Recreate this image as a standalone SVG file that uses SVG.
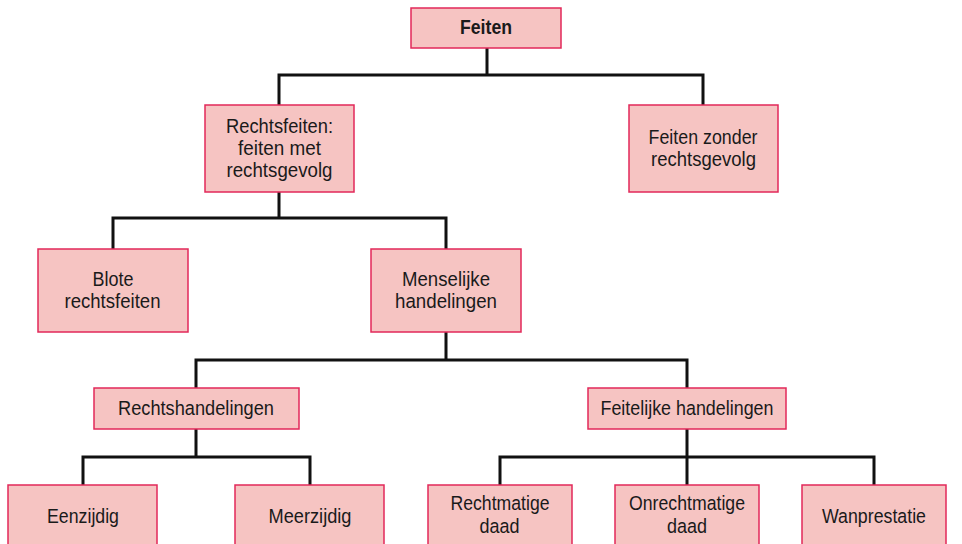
<svg xmlns="http://www.w3.org/2000/svg" width="962" height="544" viewBox="0 0 962 544">
<style>
.box{fill:#f6c4c2;stroke:#e2285a;stroke-width:1.5}
.t{font-family:"Liberation Sans",Arial,sans-serif;font-size:20.5px;fill:#1a1a1a;text-anchor:middle}
.b{font-weight:bold}
.c{fill:none;stroke:#111;stroke-width:3}
</style>
<rect width="962" height="544" fill="#fff"/>
<g id="connectors">
<path class="c" d="M487 48V75M279 105V75H703V105"/>
<path class="c" d="M279 192V218M113 249V218H446V249"/>
<path class="c" d="M446 332V360M196 388V360H687V388"/>
<path class="c" d="M196 429V457M83 485V457H310V485"/>
<path class="c" d="M687 429V457M500 485V457H874V485M687 457V485"/>
</g>
<g id="n-feiten"><rect class="box" x="411" y="8" width="150" height="40"/><text class="t b" x="486" y="34" textLength="52" lengthAdjust="spacingAndGlyphs">Feiten</text></g>
<g id="n-rechtsfeiten"><rect class="box" x="205" y="105" width="149" height="87"/><text class="t" x="279.5" y="133" textLength="107" lengthAdjust="spacingAndGlyphs">Rechtsfeiten:</text><text class="t" x="279.5" y="155" textLength="83" lengthAdjust="spacingAndGlyphs">feiten met</text><text class="t" x="279.5" y="177" textLength="106" lengthAdjust="spacingAndGlyphs">rechtsgevolg</text></g>
<g id="n-zonder"><rect class="box" x="629" y="105" width="149" height="87"/><text class="t" x="703" y="144" textLength="109" lengthAdjust="spacingAndGlyphs">Feiten zonder</text><text class="t" x="703.5" y="166" textLength="105" lengthAdjust="spacingAndGlyphs">rechtsgevolg</text></g>
<g id="n-blote"><rect class="box" x="38" y="249" width="150" height="83"/><text class="t" x="113" y="286" textLength="41" lengthAdjust="spacingAndGlyphs">Blote</text><text class="t" x="112.5" y="308" textLength="96" lengthAdjust="spacingAndGlyphs">rechtsfeiten</text></g>
<g id="n-menselijke"><rect class="box" x="371" y="249" width="150" height="83"/><text class="t" x="446" y="286" textLength="88" lengthAdjust="spacingAndGlyphs">Menselijke</text><text class="t" x="446" y="308" textLength="102" lengthAdjust="spacingAndGlyphs">handelingen</text></g>
<g id="n-rechtshandelingen"><rect class="box" x="94" y="388" width="205" height="41"/><text class="t" x="196" y="415" textLength="156" lengthAdjust="spacingAndGlyphs">Rechtshandelingen</text></g>
<g id="n-feitelijke"><rect class="box" x="588" y="388" width="198" height="41"/><text class="t" x="687" y="415" textLength="173" lengthAdjust="spacingAndGlyphs">Feitelijke handelingen</text></g>
<g id="n-eenzijdig"><rect class="box" x="8" y="485" width="149" height="64"/><text class="t" x="83" y="523" textLength="72" lengthAdjust="spacingAndGlyphs">Eenzijdig</text></g>
<g id="n-meerzijdig"><rect class="box" x="235" y="485" width="149" height="64"/><text class="t" x="310" y="523" textLength="83" lengthAdjust="spacingAndGlyphs">Meerzijdig</text></g>
<g id="n-rechtmatige"><rect class="box" x="428" y="485" width="144" height="64"/><text class="t" x="500" y="510" textLength="99" lengthAdjust="spacingAndGlyphs">Rechtmatige</text><text class="t" x="499.5" y="533" textLength="40" lengthAdjust="spacingAndGlyphs">daad</text></g>
<g id="n-onrechtmatige"><rect class="box" x="615" y="485" width="144" height="64"/><text class="t" x="687" y="510" textLength="116" lengthAdjust="spacingAndGlyphs">Onrechtmatige</text><text class="t" x="687" y="533" textLength="40" lengthAdjust="spacingAndGlyphs">daad</text></g>
<g id="n-wanprestatie"><rect class="box" x="802" y="485" width="144" height="64"/><text class="t" x="874" y="523" textLength="104" lengthAdjust="spacingAndGlyphs">Wanprestatie</text></g>
</svg>
